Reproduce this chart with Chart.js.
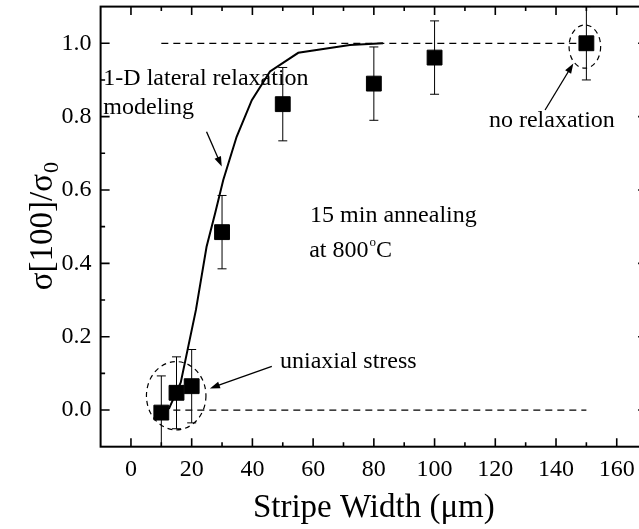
<!DOCTYPE html>
<html>
<head>
<meta charset="utf-8">
<script src="https://cdn.jsdelivr.net/npm/chart.js@4.4.1/dist/chart.umd.min.js"></script>
<style>
  html, body { margin: 0; padding: 0; overflow: hidden; background: #fff; width: 639px; height: 529px; }
  canvas { display: block; }
</style>
</head>
<body>
<canvas id="chart" width="650" height="529"></canvas>
<script>
// Measured stress ratio against stripe width (15 min anneal at 800 °C)
const stripeWidth = [10, 15, 20, 30, 50, 80, 100, 150];
const stressRatio = [-0.007, 0.047, 0.065, 0.485, 0.834, 0.89, 0.961, 1.0];
const stressError = [0.1, 0.098, 0.1, 0.1, 0.1, 0.1, 0.1, 0.1];

// 1-D lateral relaxation model curve
const modelWidth = [10, 12.6, 16.4, 21.4, 24.9, 27.7, 30.4, 34.8, 39.8, 45.8, 55.1, 72.1, 83];
const modelRatio = [-0.01, 0.005, 0.075, 0.273, 0.445, 0.536, 0.627, 0.745, 0.845, 0.923, 0.974, 0.995, 1.0];

// Reference levels: fully retained stress and fully relaxed stress
const refWidth = [10, 150];
const fullStress = [1, 1];
const zeroStress = [0, 0];

// Axis ticks
const xTickLabels = [0, 20, 40, 60, 80, 100, 120, 140, 160];
const xMinorTicks = [10, 30, 50, 70, 90, 110, 130, 150];
const yTickLabels = [0.0, 0.2, 0.4, 0.6, 0.8, 1.0];
const yMinorTicks = [0.1, 0.3, 0.5, 0.7, 0.9];

const SERIF = '"Liberation Serif", "Times New Roman", serif';
const pts = (xs, ys) => xs.map((x, i) => ({ x, y: ys[i] }));

// Keep the plot box fixed: no extra room reserved for edge labels
const noEdgePadding = s => {
  s.paddingTop = 0; s.paddingBottom = 0; s.paddingLeft = 0; s.paddingRight = 0;
};

// Error bars behind the square markers
const errorBars = {
  id: 'errorBars',
  beforeDatasetsDraw(chart) {
    const { ctx, chartArea: a, scales: { x, y } } = chart;
    ctx.save();
    ctx.beginPath();
    ctx.rect(a.left, a.top, a.right - a.left, a.bottom - a.top);
    ctx.clip();
    ctx.strokeStyle = '#000';
    ctx.lineWidth = 1;
    stripeWidth.forEach((w, i) => {
      const px = x.getPixelForValue(w);
      const top = y.getPixelForValue(stressRatio[i] + stressError[i]);
      const bot = y.getPixelForValue(stressRatio[i] - stressError[i]);
      ctx.beginPath();
      ctx.moveTo(px, top); ctx.lineTo(px, bot);
      ctx.moveTo(px - 4.5, top); ctx.lineTo(px + 4.5, top);
      ctx.moveTo(px - 4.5, bot); ctx.lineTo(px + 4.5, bot);
      ctx.stroke();
    });
    ctx.restore();
  }
};

// Box frame with inward ticks on all four sides
const frame = {
  id: 'frame',
  afterDatasetsDraw(chart) {
    const { ctx, chartArea: a, scales: { x, y } } = chart;
    ctx.save();
    ctx.strokeStyle = '#000';
    ctx.lineWidth = 1.6;
    ctx.beginPath();
    const tickX = (v, len) => {
      const p = x.getPixelForValue(v);
      ctx.moveTo(p, a.bottom); ctx.lineTo(p, a.bottom - len);
      ctx.moveTo(p, a.top); ctx.lineTo(p, a.top + len);
    };
    const tickY = (v, len) => {
      const p = y.getPixelForValue(v);
      ctx.moveTo(a.left, p); ctx.lineTo(a.left + len, p);
      ctx.moveTo(a.right, p); ctx.lineTo(a.right - len, p);
    };
    xTickLabels.forEach(v => tickX(v, 8.5));
    xMinorTicks.forEach(v => tickX(v, 4.5));
    yTickLabels.forEach(v => tickY(v, 9));
    yMinorTicks.forEach(v => tickY(v, 4.5));
    ctx.stroke();
    ctx.lineWidth = 2;
    ctx.strokeRect(a.left, a.top, a.right - a.left, a.bottom - a.top);
    ctx.restore();
  }
};

// Annotations, placed in data units
const notes = {
  id: 'notes',
  afterDraw(chart) {
    const { ctx, chartArea: a, scales: { x, y } } = chart;
    const X = v => x.getPixelForValue(v);
    const Y = v => y.getPixelForValue(v);
    ctx.save();
    ctx.fillStyle = '#000';
    ctx.strokeStyle = '#000';
    ctx.textBaseline = 'alphabetic';
    ctx.textAlign = 'left';
    ctx.font = '24px ' + SERIF;

    const text = (s, vx, vy) => ctx.fillText(s, X(vx), Y(vy));
    text('1-D lateral relaxation', -9.1, 0.886);
    text('modeling', -9.1, 0.807);
    text('no relaxation', 117.9, 0.773);
    text('15 min annealing', 59.0, 0.514);
    text('uniaxial stress', 49.1, 0.114);

    // "at 800°C" with a raised small o
    let px = X(58.7), py = Y(0.416);
    ctx.fillText('at 800', px, py);
    px += ctx.measureText('at 800').width + 1;
    ctx.font = '13px ' + SERIF;
    ctx.fillText('o', px, py - 11);
    px += ctx.measureText('o').width;
    ctx.font = '24px ' + SERIF;
    ctx.fillText('C', px, py);

    // arrows
    const arrow = (x0, y0, x1, y1) => {
      const ax = X(x0), ay = Y(y0), bx = X(x1), by = Y(y1);
      const ang = Math.atan2(by - ay, bx - ax);
      const L = 10, W = 3.5;
      ctx.lineWidth = 1.3;
      ctx.beginPath();
      ctx.moveTo(ax, ay);
      ctx.lineTo(bx - Math.cos(ang) * L * 0.8, by - Math.sin(ang) * L * 0.8);
      ctx.stroke();
      ctx.beginPath();
      ctx.moveTo(bx, by);
      ctx.lineTo(bx - Math.cos(ang) * L - Math.sin(ang) * W, by - Math.sin(ang) * L + Math.cos(ang) * W);
      ctx.lineTo(bx - Math.cos(ang) * L + Math.sin(ang) * W, by - Math.sin(ang) * L - Math.cos(ang) * W);
      ctx.closePath();
      ctx.fill();
    };
    arrow(24.9, 0.759, 29.9, 0.664);
    arrow(46.4, 0.119, 26.0, 0.059);
    arrow(136.4, 0.818, 145.7, 0.945);

    // dashed ellipses around the highlighted points
    const ellipse = (cx, cy, rx, ry) => {
      const px0 = X(cx), py0 = Y(cy);
      const rpx = Math.abs(X(cx + rx) - px0), rpy = Math.abs(Y(cy + ry) - py0);
      ctx.lineWidth = 1.2;
      ctx.setLineDash([5, 4]);
      ctx.beginPath();
      ctx.ellipse(px0, py0, rpx, rpy, 0, 0, Math.PI * 2);
      ctx.stroke();
      ctx.setLineDash([]);
    };
    ellipse(14.9, 0.039, 9.8, 0.093);
    ellipse(149.5, 0.991, 5.2, 0.059);

    // rotated y-axis title with subscript
    const cy = (a.top + a.bottom) / 2;
    ctx.translate(52, cy);
    ctx.rotate(-Math.PI / 2);
    ctx.font = '33px ' + SERIF;
    const main = 'σ[100]/σ';
    const wMain = ctx.measureText(main).width;
    ctx.font = '22px ' + SERIF;
    const wSub = ctx.measureText('0').width;
    const start = -(wMain + wSub) / 2;
    ctx.font = '33px ' + SERIF;
    ctx.fillText(main, start, 0);
    ctx.font = '22px ' + SERIF;
    ctx.fillText('0', start + wMain + 1, 6);
    ctx.restore();
  }
};

new Chart(document.getElementById('chart'), {
  type: 'scatter',
  data: {
    datasets: [
      {
        label: 'measured',
        data: pts(stripeWidth, stressRatio),
        pointStyle: 'rect',
        pointRadius: 10.5,
        backgroundColor: '#000',
        borderColor: '#000',
        borderWidth: 1,
        showLine: false
      },
      {
        label: 'model',
        data: pts(modelWidth, modelRatio),
        showLine: true,
        borderColor: '#000',
        borderWidth: 2,
        pointRadius: 0,
        tension: 0,
        fill: false
      },
      {
        label: 'no relaxation level',
        data: pts(refWidth, fullStress),
        showLine: true,
        borderColor: '#000',
        borderWidth: 1.3,
        borderDash: [7, 5],
        pointRadius: 0,
        fill: false
      },
      {
        label: 'full relaxation level',
        data: pts(refWidth, zeroStress),
        showLine: true,
        borderColor: '#000',
        borderWidth: 1.3,
        borderDash: [7, 5],
        pointRadius: 0,
        fill: false
      }
    ]
  },
  options: {
    responsive: false,
    animation: false,
    devicePixelRatio: 1,
    layout: { autoPadding: false, padding: { top: 6.6, right: 2.9, left: 0, bottom: 0 } },
    plugins: { legend: { display: false }, tooltip: { enabled: false } },
    scales: {
      x: {
        type: 'linear',
        min: -10,
        max: 170,
        afterBuildTicks: s => { s.ticks = xTickLabels.map(v => ({ value: v })); },
        afterFit: s => { s.height = 82.3; noEdgePadding(s); },
        grid: { display: false, drawTicks: false },
        border: { display: false },
        ticks: { padding: 9, color: '#000', maxRotation: 0, font: { family: SERIF, size: 24 } },
        title: {
          display: true,
          text: 'Stripe Width (μm)',
          color: '#000',
          font: { family: SERIF, size: 33 },
          padding: { top: 0, bottom: 1 }
        }
      },
      y: {
        type: 'linear',
        min: -0.1,
        max: 1.1,
        afterBuildTicks: s => { s.ticks = yTickLabels.map(v => ({ value: v })); },
        afterFit: s => { s.width = 100.6; noEdgePadding(s); },
        grid: { display: false, drawTicks: false },
        border: { display: false },
        ticks: { padding: 9, color: '#000', font: { family: SERIF, size: 24 }, callback: v => v.toFixed(1) }
      }
    }
  },
  plugins: [errorBars, frame, notes]
});
</script>
</body>
</html>
